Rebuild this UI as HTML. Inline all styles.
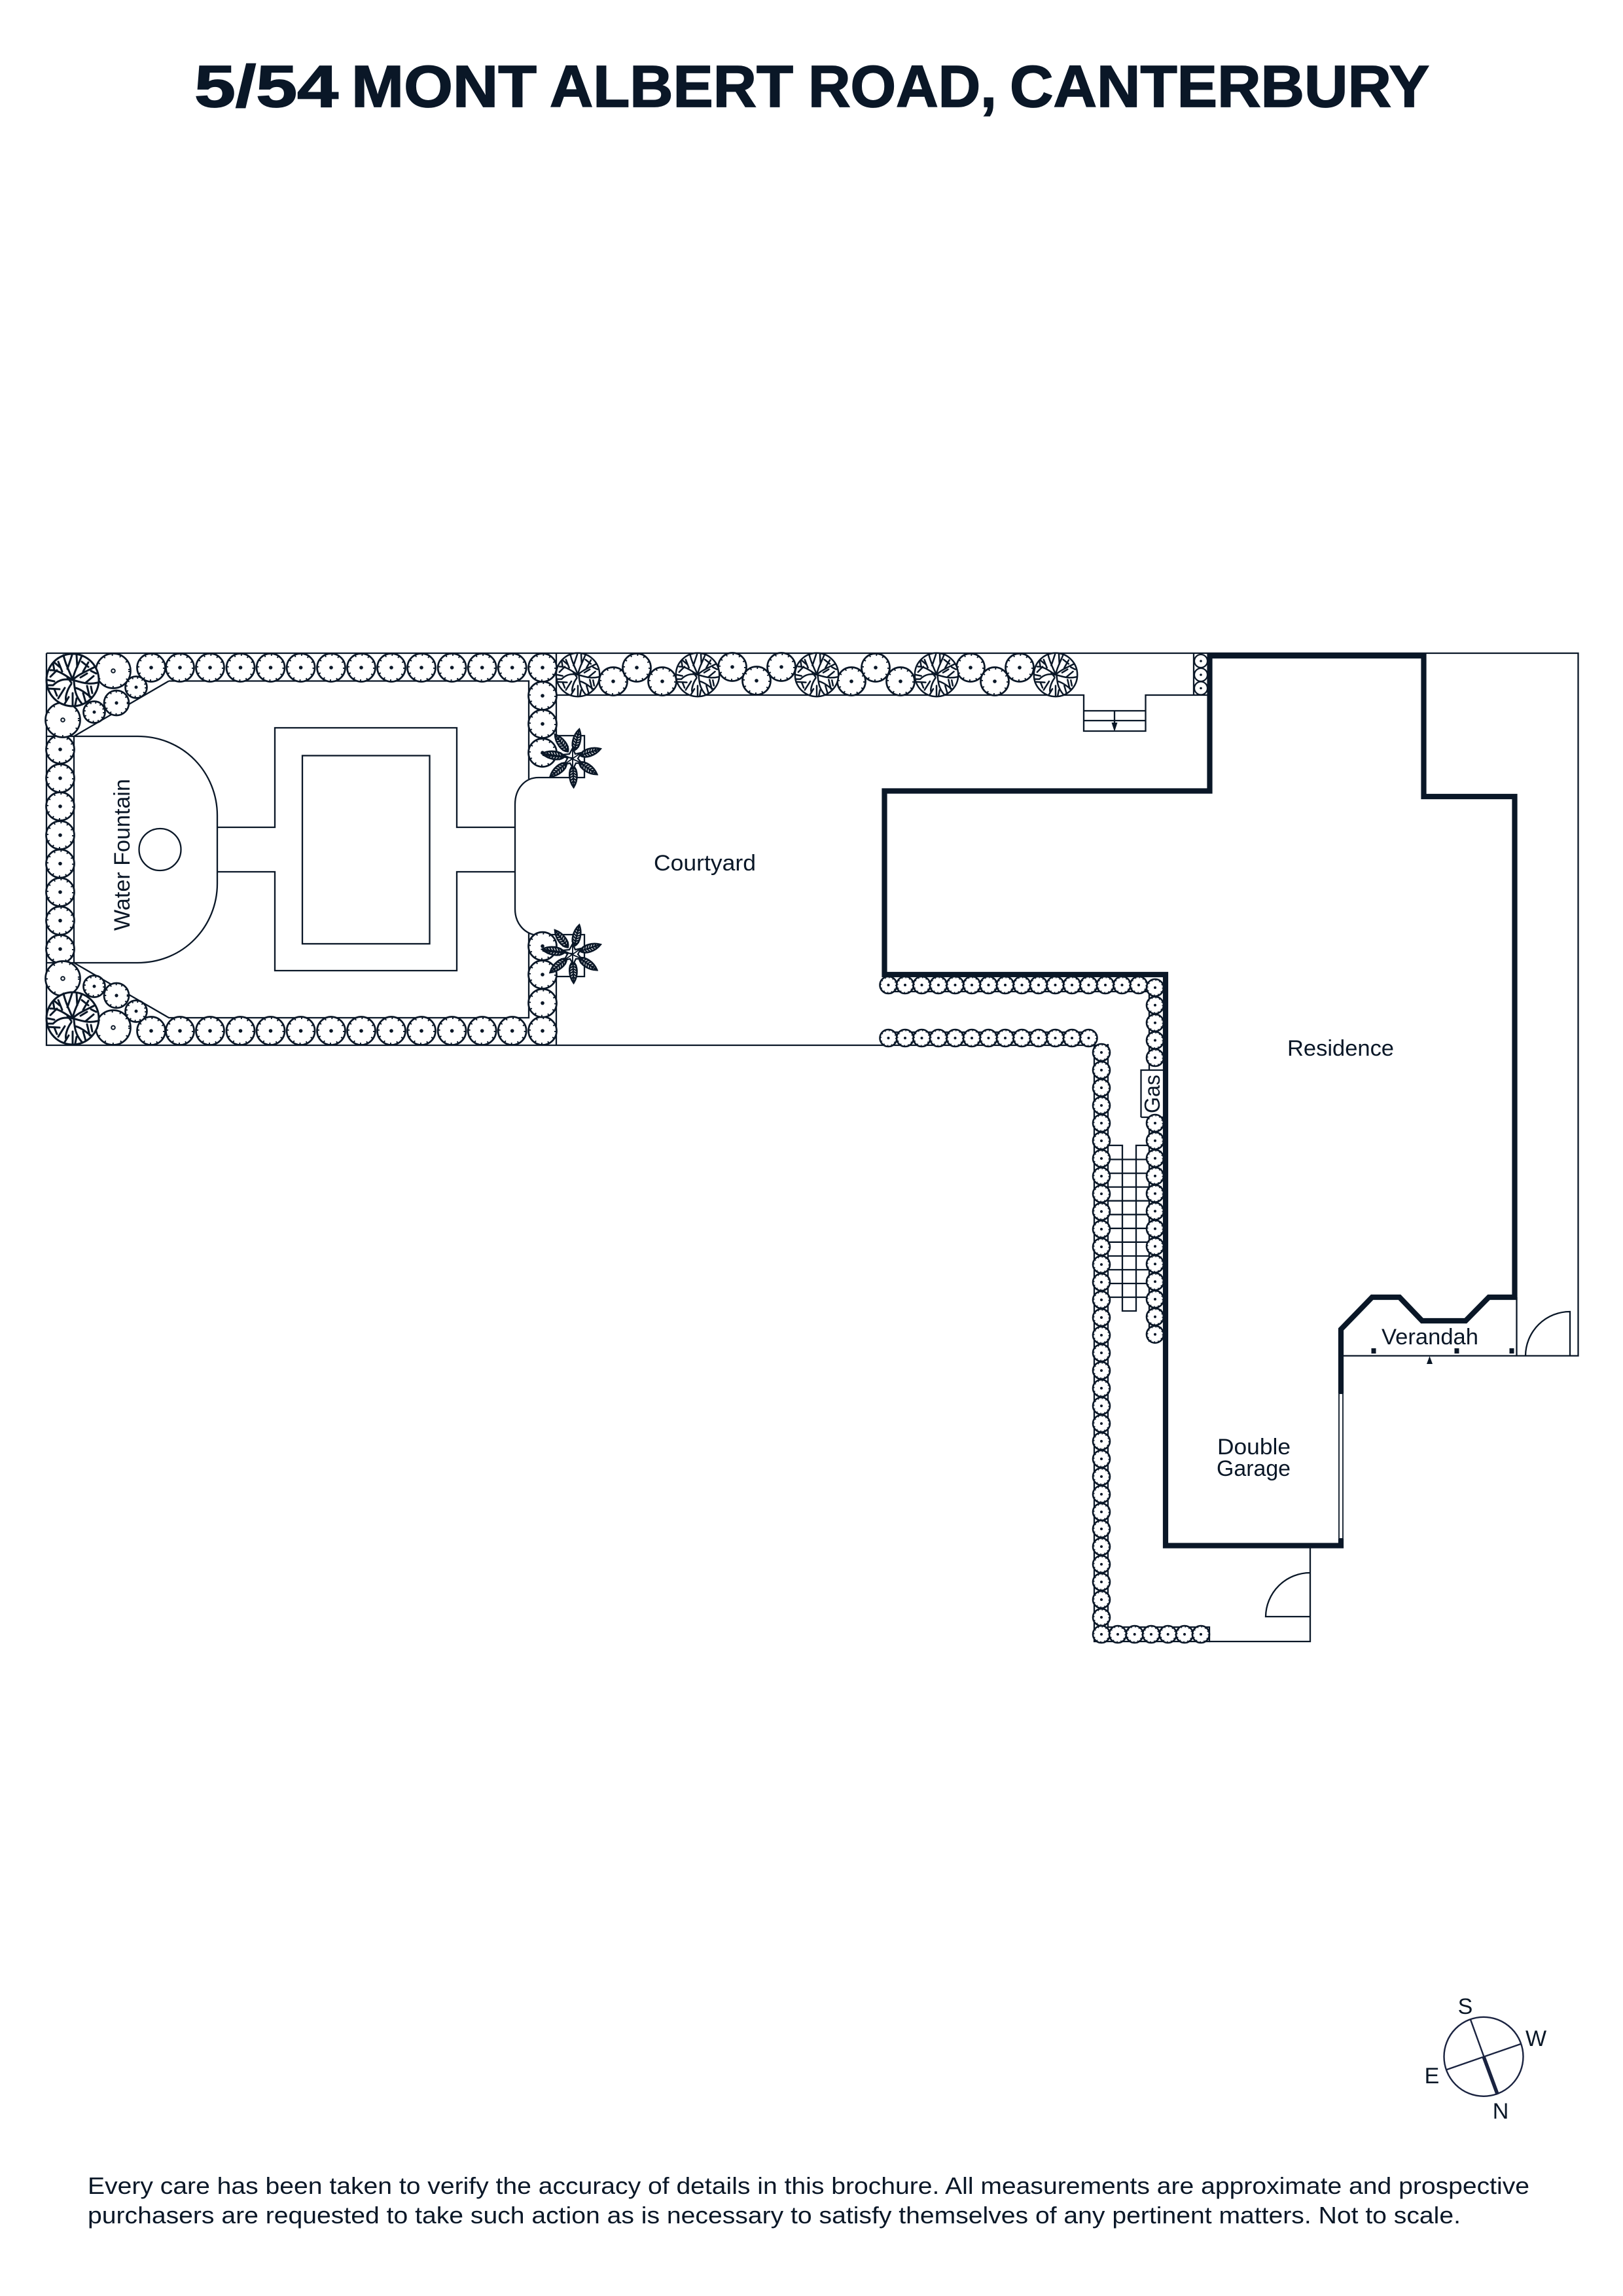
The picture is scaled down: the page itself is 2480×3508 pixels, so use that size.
<!DOCTYPE html>
<html lang="en"><head><meta charset="utf-8"><title>5/54 Mont Albert Road, Canterbury</title>
<style>html,body{margin:0;padding:0;background:#fff}svg{display:block}
text{font-family:"Liberation Sans",sans-serif;fill:#0a1727}</style></head><body>
<svg xmlns="http://www.w3.org/2000/svg" width="2480" height="3508" viewBox="0 0 2480 3508">
<defs>
<g id="a"><circle r="21.5" fill="#fff" stroke="#0a1727" stroke-width="2.7"/><circle r="20" fill="none" stroke="#0a1727" stroke-width="4" stroke-dasharray="2 8.5"/><circle r="2.8" fill="#0a1727"/></g>
<g id="b"><circle r="13" fill="#fff" stroke="#0a1727" stroke-width="2.6"/><circle r="12" fill="none" stroke="#0a1727" stroke-width="3" stroke-dasharray="1.6 4.7"/><circle r="2" fill="#0a1727"/></g>
<g id="c"><circle r="10" fill="#fff" stroke="#0a1727" stroke-width="2.2"/><circle r="1.8" fill="#0a1727"/></g>
<g id="d"><circle r="26.5" fill="#fff" stroke="#0a1727" stroke-width="2.7"/><circle r="25" fill="none" stroke="#0a1727" stroke-width="4" stroke-dasharray="2 10.8"/><circle r="2.8" fill="#fff" stroke="#0a1727" stroke-width="2"/></g>
<g id="e"><circle r="16.5" fill="#fff" stroke="#0a1727" stroke-width="2.7"/><circle r="15" fill="none" stroke="#0a1727" stroke-width="3.6" stroke-dasharray="2 6"/><circle r="2.5" fill="#0a1727"/></g>
<g id="f"><circle r="19" fill="#fff" stroke="#0a1727" stroke-width="2.7"/><circle r="17.5" fill="none" stroke="#0a1727" stroke-width="3.6" stroke-dasharray="2 7"/><circle r="2.6" fill="#0a1727"/></g>
<g id="t"><circle r="40" fill="#fff" stroke="#0a1727" stroke-width="3"/>
<path fill="none" stroke="#0a1727" stroke-width="3" stroke-linecap="round" d="M0 0C-3-10-10-20-14-38M-8-17L-1-38M0 0C2-12 8-22 14-37M7-20L6-38M0 0C8-8 18-12 34-20M16-13L24-27M12-4L22-10M0 0C10 2 22 8 38 4M20 4L32-6M2 2C3 14 4 24 14 36M4 12C14 14 24 24 28 26M22 9L26 26M28 10L30 20M-2 6C-8 14-12 26-10 32M0 20L0 38M0 0C-10-2-20-2-30 8L-38 8M-20 14L-38 13M-12 12L-22 28M-28 14L-24 24M0 0C-10-6-22-16-34-15M-16-13L-22-28M-24-15L-34-5M-28-15L-30-26M-8-4L-2 4M14-28L24-20M-20-20L-27-26M-6 26L-12 36M6 28L4 38M-28 2L-38 0M28-14L36-10M16 20L20 34"/></g>
<g id="l"><path d="M0-12C7.5-18 7.5-34 0-45C-7.5-34-7.5-18 0-12Z" fill="#fff" stroke="#0a1727" stroke-width="2.6"/>
<path fill="none" stroke="#0a1727" stroke-width="2.3" d="M0-12V-45M-5.5-19L0-15L5.5-19M-6-23L0-19L6-23M-6-27L0-23L6-27M-6-31L0-27L6-31M-5-35L0-31L5-35M-3.5-39L0-35L3.5-39"/></g>
<g id="star"><use href="#l" transform="rotate(13)"/><use href="#l" transform="rotate(72)"/><use href="#l" transform="rotate(124)"/><use href="#l" transform="rotate(178)"/><use href="#l" transform="rotate(230)"/><use href="#l" transform="rotate(278) scale(1.05)"/><use href="#l" transform="rotate(323)"/>
<path fill="#fff" stroke="#0a1727" stroke-width="2.3" d="M0-15L4-6L13-8L8 1L14 8L5 8L1 16L-4 8L-13 10L-8 1L-15-5L-5-6Z"/><path fill="none" stroke="#0a1727" stroke-width="1.9" d="M0-15L0 16M-15-5L14 8M13-8L-13 10M-46-4L0 0"/></g>
<pattern id="xv" patternUnits="userSpaceOnUse" x="1673" y="1608" width="20" height="27"><path d="M0 8L20 19M0 19L20 8" stroke="#0a1727" stroke-width="2" fill="none"/></pattern>
<pattern id="xr" patternUnits="userSpaceOnUse" x="1755" y="1509" width="20" height="26.9"><path d="M0 8L20 19M0 19L20 8" stroke="#0a1727" stroke-width="2" fill="none"/></pattern>
<pattern id="xh" patternUnits="userSpaceOnUse" x="1357.5" y="1577" width="25.5" height="20"><path d="M8 0L17.5 20M8 20L17.5 0" stroke="#0a1727" stroke-width="2" fill="none"/></pattern>
<pattern id="xh2" patternUnits="userSpaceOnUse" x="1357.5" y="1495" width="25.5" height="20"><path d="M8 0L17.5 20M8 20L17.5 0" stroke="#0a1727" stroke-width="2" fill="none"/></pattern>
<pattern id="xb" patternUnits="userSpaceOnUse" x="1683" y="2487" width="25.3" height="21"><path d="M8 0L17 21M8 21L17 0" stroke="#0a1727" stroke-width="2" fill="none"/></pattern>
</defs>

<g font-size="90" font-weight="700" stroke="#0a1727" stroke-width="1.7">
<text x="297" y="163" textLength="220" lengthAdjust="spacingAndGlyphs">5/54</text>
<text x="537" y="163" textLength="283" lengthAdjust="spacingAndGlyphs">MONT</text>
<text x="840" y="163" textLength="372" lengthAdjust="spacingAndGlyphs">ALBERT</text>
<text x="1235" y="163" textLength="288" lengthAdjust="spacingAndGlyphs">ROAD,</text>
<text x="1543" y="163" textLength="641" lengthAdjust="spacingAndGlyphs">CANTERBURY</text>
</g>

<!-- thin linework -->
<g fill="none" stroke="#0a1727" stroke-width="2.3">
<path d="M71 998H2411.5V2071.5H2052"/>
<path d="M71 998V1597H1693V1595"/>
<path d="M113 1125V1471"/>
<path d="M258 1040.5H808V1190M258 1040.5L113 1125M808 1426V1555H258L113 1471"/>
<path d="M850 998V1124H893V1188H823C802 1188 787 1205 787 1229V1389C787 1410 800 1424 815 1428H893V1492H850V1597"/>
<path d="M71 1125H210C282 1125 332 1182 332 1246V1350C332 1414 282 1471 210 1471H71"/>
<circle cx="244.5" cy="1298" r="32"/>
<path d="M332 1264H420V1112H698V1264H787M332 1332H420V1483H698V1332H787"/>
<rect x="462" y="1154.5" width="194.5" height="287.5"/>
<path d="M850 1062H1656V1117H1750.5V1062H1846M1656 1086H1750.5M1656 1101H1750.5M1703 1086V1108"/>
<path d="M1824 998V1062"/>
<path d="M1357 1577H1665M1693 1597V2486H1848V2508H1672V1596"/>
<path d="M1357 1515H1756V1635M1756 1707V2050"/>
<path d="M1743.5 1707V1635H1777"/>
<path d="M1743.5 1707H1777"/>
<path d="M1694 1750H1715V2003H1736V1750H1756"/>
<path d="M1694 1771.5H1756M1694 1792.6H1756M1694 1813.6H1756M1694 1834.7H1756M1694 1855.7H1756M1694 1876.8H1756M1694 1897.8H1756M1694 1919H1756M1694 1940H1756M1694 1961H1756M1694 1982H1756"/>
<path d="M1848 2508H2002V2365M2002 2403A68 68 0 0 0 1934 2470H2002"/>
<path d="M2317.5 1982V2071.5M2399 2071.5V2004A68 68 0 0 0 2331 2071.5"/>
</g>
<path d="M1703 1118L1698.5 1104H1707.5Z" fill="#0a1727"/>
<path d="M2184.5 2072L2189 2084H2180Z" fill="#0a1727"/>
<rect x="2095.5" y="2060" width="7" height="8" fill="#0a1727"/>
<rect x="2222.5" y="2060" width="7" height="8" fill="#0a1727"/>
<rect x="2306.5" y="2060" width="7" height="8" fill="#0a1727"/>

<!-- X linking patterns -->
<rect x="1673" y="1608" width="20" height="889" fill="url(#xv)"/>
<rect x="1755" y="1509" width="20" height="107" fill="url(#xr)"/>
<rect x="1755" y="1716" width="20" height="323" fill="url(#xr)"/>
<rect x="1357.5" y="1577" width="306" height="20" fill="url(#xh)"/>
<rect x="1357.5" y="1495" width="382" height="20" fill="url(#xh2)"/>
<rect x="1683" y="2487" width="152" height="21" fill="url(#xb)"/>

<!-- garden shrubs -->
<use href="#a" x="231" y="1020"/><use href="#a" x="275" y="1020"/><use href="#a" x="321" y="1020"/><use href="#a" x="367.5" y="1020"/><use href="#a" x="413.5" y="1020"/><use href="#a" x="459.6" y="1020"/><use href="#a" x="506" y="1020"/><use href="#a" x="552" y="1020"/><use href="#a" x="598" y="1020"/><use href="#a" x="644" y="1020"/><use href="#a" x="690.6" y="1020"/><use href="#a" x="736.7" y="1020"/><use href="#a" x="782.7" y="1020"/><use href="#a" x="829" y="1020"/>
<use href="#a" x="231" y="1575"/><use href="#a" x="275" y="1575"/><use href="#a" x="321" y="1575"/><use href="#a" x="367.5" y="1575"/><use href="#a" x="413.5" y="1575"/><use href="#a" x="459.6" y="1575"/><use href="#a" x="506" y="1575"/><use href="#a" x="552" y="1575"/><use href="#a" x="598" y="1575"/><use href="#a" x="644" y="1575"/><use href="#a" x="690.6" y="1575"/><use href="#a" x="736.7" y="1575"/><use href="#a" x="782.7" y="1575"/><use href="#a" x="829" y="1575"/>
<use href="#a" x="829" y="1063"/><use href="#a" x="829" y="1106"/><use href="#a" x="829" y="1150"/><use href="#a" x="829" y="1445.6"/><use href="#a" x="829" y="1489"/><use href="#a" x="829" y="1532.6"/>
<use href="#a" x="92" y="1145"/><use href="#a" x="92" y="1189"/><use href="#a" x="92" y="1232"/><use href="#a" x="92" y="1276"/><use href="#a" x="92" y="1319.5"/><use href="#a" x="92" y="1363"/><use href="#a" x="92" y="1406.6"/><use href="#a" x="92" y="1450"/>
<use href="#d" x="173" y="1025"/><use href="#d" x="96" y="1100"/><use href="#e" x="208" y="1050"/><use href="#e" x="144" y="1088"/><use href="#f" x="178" y="1074"/>
<use href="#d" x="173" y="1570"/><use href="#d" x="96" y="1495"/><use href="#e" x="208" y="1545"/><use href="#e" x="144" y="1507"/><use href="#f" x="178" y="1521"/>
<use href="#t" transform="translate(111 1039)"/>
<use href="#t" transform="translate(111 1556)"/>
<use href="#star" transform="translate(875 1158)"/>
<use href="#star" transform="translate(875 1457)"/>

<!-- strip -->
<use href="#a" x="937" y="1041"/><use href="#a" x="973" y="1020"/><use href="#a" x="1012" y="1041"/><use href="#a" x="1119" y="1019"/><use href="#a" x="1156" y="1040"/><use href="#a" x="1194" y="1019"/><use href="#a" x="1301" y="1041"/><use href="#a" x="1338" y="1020"/><use href="#a" x="1376" y="1041"/><use href="#a" x="1483" y="1020"/><use href="#a" x="1520" y="1041"/><use href="#a" x="1558" y="1020"/>
<use href="#t" transform="translate(883 1031) scale(.83)"/><use href="#t" transform="translate(1066 1031) scale(.83)"/><use href="#t" transform="translate(1248 1031) scale(.83)"/><use href="#t" transform="translate(1431 1031) scale(.83)"/><use href="#t" transform="translate(1613 1031) scale(.83)"/>
<use href="#c" x="1835" y="1010"/><use href="#c" x="1835" y="1031"/><use href="#c" x="1835" y="1051.5"/>

<!-- rows beside the house -->
<use href="#b" x="1357.5" y="1505"/><use href="#b" x="1383" y="1505"/><use href="#b" x="1408.5" y="1505"/><use href="#b" x="1434" y="1505"/><use href="#b" x="1459.5" y="1505"/><use href="#b" x="1485" y="1505"/><use href="#b" x="1510.5" y="1505"/><use href="#b" x="1536" y="1505"/><use href="#b" x="1561.5" y="1505"/><use href="#b" x="1587" y="1505"/><use href="#b" x="1612.5" y="1505"/><use href="#b" x="1638" y="1505"/><use href="#b" x="1663.5" y="1505"/><use href="#b" x="1689" y="1505"/><use href="#b" x="1714.5" y="1505"/><use href="#b" x="1740" y="1505"/>
<use href="#b" x="1357.5" y="1586"/><use href="#b" x="1383" y="1586"/><use href="#b" x="1408.5" y="1586"/><use href="#b" x="1434" y="1586"/><use href="#b" x="1459.5" y="1586"/><use href="#b" x="1485" y="1586"/><use href="#b" x="1510.5" y="1586"/><use href="#b" x="1536" y="1586"/><use href="#b" x="1561.5" y="1586"/><use href="#b" x="1587" y="1586"/><use href="#b" x="1612.5" y="1586"/><use href="#b" x="1638" y="1586"/><use href="#b" x="1663.5" y="1586"/>
<use href="#b" x="1765" y="1509"/><use href="#b" x="1765" y="1535.8"/><use href="#b" x="1765" y="1562.7"/><use href="#b" x="1765" y="1589.5"/><use href="#b" x="1765" y="1616"/>
<use href="#b" x="1765" y="1716"/><use href="#b" x="1765" y="1742.9"/><use href="#b" x="1765" y="1769.8"/><use href="#b" x="1765" y="1796.7"/><use href="#b" x="1765" y="1823.6"/><use href="#b" x="1765" y="1850.5"/><use href="#b" x="1765" y="1877.4"/><use href="#b" x="1765" y="1904.3"/><use href="#b" x="1765" y="1931.2"/><use href="#b" x="1765" y="1958.1"/><use href="#b" x="1765" y="1985"/><use href="#b" x="1765" y="2011.9"/><use href="#b" x="1765" y="2038.8"/>
<use href="#b" x="1683" y="1608"/><use href="#b" x="1683" y="1635"/><use href="#b" x="1683" y="1662"/><use href="#b" x="1683" y="1689"/><use href="#b" x="1683" y="1716"/><use href="#b" x="1683" y="1743"/><use href="#b" x="1683" y="1770"/><use href="#b" x="1683" y="1797"/><use href="#b" x="1683" y="1824"/><use href="#b" x="1683" y="1851"/><use href="#b" x="1683" y="1878"/><use href="#b" x="1683" y="1905"/><use href="#b" x="1683" y="1932"/><use href="#b" x="1683" y="1959"/><use href="#b" x="1683" y="1986"/><use href="#b" x="1683" y="2013"/><use href="#b" x="1683" y="2040"/><use href="#b" x="1683" y="2067"/><use href="#b" x="1683" y="2094"/><use href="#b" x="1683" y="2121"/><use href="#b" x="1683" y="2148"/><use href="#b" x="1683" y="2175"/><use href="#b" x="1683" y="2202"/><use href="#b" x="1683" y="2229"/><use href="#b" x="1683" y="2256"/><use href="#b" x="1683" y="2283"/><use href="#b" x="1683" y="2310"/><use href="#b" x="1683" y="2336"/><use href="#b" x="1683" y="2363"/><use href="#b" x="1683" y="2390"/><use href="#b" x="1683" y="2417"/><use href="#b" x="1683" y="2444"/><use href="#b" x="1683" y="2471"/><use href="#b" x="1683" y="2497"/>
<use href="#b" x="1708" y="2497"/><use href="#b" x="1733.7" y="2497"/><use href="#b" x="1759" y="2497"/><use href="#b" x="1784.7" y="2497"/><use href="#b" x="1810" y="2497"/><use href="#b" x="1835" y="2497"/>

<!-- thick walls -->
<g fill="none" stroke="#0a1727" stroke-width="8.2" stroke-linejoin="miter">
<path d="M2179 1002H1848.5V1208.5H1351.5V1489H1781V2361.5H2049V2351"/>
<path d="M2175.5 998V1217H2314.5V1982H2275L2239.5 2018H2173L2138.5 1982H2096.6L2049 2031V2129"/>
</g>
<rect x="2046" y="2129" width="6" height="222" fill="#fff" stroke="#0a1727" stroke-width="1.8"/>

<!-- labels -->
<text transform="translate(198 1422) rotate(-90)" font-size="34" textLength="232" lengthAdjust="spacingAndGlyphs">Water Fountain</text>
<text transform="translate(1772 1701) rotate(-90)" font-size="33" textLength="59" lengthAdjust="spacingAndGlyphs">Gas</text>
<text x="999" y="1330" font-size="34" textLength="156" lengthAdjust="spacingAndGlyphs">Courtyard</text>
<text x="1967" y="1613" font-size="34" textLength="163" lengthAdjust="spacingAndGlyphs">Residence</text>
<text x="2111" y="2054" font-size="34" textLength="148" lengthAdjust="spacingAndGlyphs">Verandah</text>
<text x="1860" y="2222" font-size="34" textLength="112" lengthAdjust="spacingAndGlyphs">Double</text>
<text x="1859" y="2255" font-size="34" textLength="113" lengthAdjust="spacingAndGlyphs">Garage</text>

<!-- compass -->
<g fill="none" stroke="#1a2340">
<circle cx="2267" cy="3142.3" r="60.5" stroke-width="2.4"/>
<path d="M2247 3085.7L2288.3 3200M2210.3 3162.3L2324.3 3122.7" stroke-width="2.4"/>
<path d="M2267 3142.3L2288.3 3200" stroke-width="5.5"/>
</g>
<g font-size="34" text-anchor="middle">
<text x="2239" y="3077">S</text><text x="2347" y="3126">W</text><text x="2188" y="3183">E</text><text x="2293" y="3237">N</text>
</g>

<!-- footer -->
<text x="134" y="3352" font-size="36" textLength="2203" lengthAdjust="spacingAndGlyphs">Every care has been taken to verify the accuracy of details in this brochure. All measurements are approximate and prospective</text>
<text x="134" y="3397" font-size="36" textLength="2098" lengthAdjust="spacingAndGlyphs">purchasers are requested to take such action as is necessary to satisfy themselves of any pertinent matters. Not to scale.</text>
</svg>
</body></html>
